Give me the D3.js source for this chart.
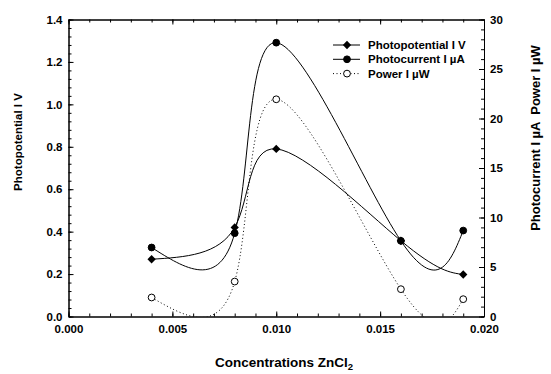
<!DOCTYPE html>
<html>
<head>
<meta charset="utf-8">
<script src="https://cdn.jsdelivr.net/npm/d3@7"></script>
<style>
  body { margin: 0; background: #fff; }
  svg { font-family: "Liberation Sans", Arial, sans-serif; font-weight: bold; }
  .tick text { font-size: 11.5px; fill: #000; }
</style>
</head>
<body>
<svg width="551" height="374"></svg>
<script>
// data
const conc = [0.004, 0.008, 0.010, 0.016, 0.019];
const photopotential = [0.27, 0.42, 0.79, 0.357, 0.198];   // V, left axis
const photocurrent = [6.97, 8.42, 27.66, 7.64, 8.68];      // µA, right axis
const power = [1.92, 3.53, 21.94, 2.76, 1.75];             // µW, right axis

const xTicks = [0.000, 0.005, 0.010, 0.015, 0.020];
const yLeftTicks = [0.0, 0.2, 0.4, 0.6, 0.8, 1.0, 1.2, 1.4];
const yRightTicks = [0, 5, 10, 15, 20, 25, 30];

const svg = d3.select("svg");

const plotLeft = 68.5, plotRight = 484, plotTop = 19.5, plotBottom = 316.5;

const x = d3.scaleLinear().domain([0, 0.02]).range([plotLeft, plotRight]);
const yL = d3.scaleLinear().domain([0, 1.4]).range([plotBottom, plotTop]);
const yR = d3.scaleLinear().domain([0, 30]).range([plotBottom, plotTop]);

svg.append("clipPath").attr("id", "plot-clip")
    .append("rect")
    .attr("x", plotLeft).attr("y", plotTop)
    .attr("width", plotRight - plotLeft).attr("height", plotBottom - plotTop);

// axes: ticks point inward on all four sides
function minor(axis, values) {
    return axis.tickValues(values).tickFormat("").tickSizeOuter(0);
}

svg.append("g").attr("transform", `translate(0,${plotBottom})`)
    .call(minor(d3.axisBottom(x).tickSizeInner(-3), d3.range(0, 21).map(d => d / 1000)));
svg.append("g").attr("transform", `translate(0,${plotBottom})`)
    .call(d3.axisBottom(x).tickValues(xTicks).tickFormat(d3.format(".3f"))
        .tickSizeInner(-5).tickSizeOuter(0).tickPadding(8));

svg.append("g").attr("transform", `translate(0,${plotTop})`)
    .call(minor(d3.axisTop(x).tickSizeInner(-3), d3.range(0, 21).map(d => d / 1000)));
svg.append("g").attr("transform", `translate(0,${plotTop})`)
    .call(d3.axisTop(x).tickValues(xTicks).tickFormat("").tickSizeInner(-5).tickSizeOuter(0));

svg.append("g").attr("transform", `translate(${plotLeft},0)`)
    .call(minor(d3.axisLeft(yL).tickSizeInner(-3), d3.range(0, 36).map(d => d * 0.04)));
svg.append("g").attr("transform", `translate(${plotLeft},0)`)
    .call(d3.axisLeft(yL).tickValues(yLeftTicks).tickFormat(d3.format(".1f"))
        .tickSizeInner(-5).tickSizeOuter(0).tickPadding(6));

svg.append("g").attr("transform", `translate(${plotRight},0)`)
    .call(minor(d3.axisRight(yR).tickSizeInner(-3), d3.range(0, 31)));
svg.append("g").attr("transform", `translate(${plotRight},0)`)
    .call(d3.axisRight(yR).tickValues(yRightTicks).tickFormat(d3.format("d"))
        .tickSizeInner(-5).tickSizeOuter(0).tickPadding(6));

svg.selectAll(".domain").attr("stroke", "#000");
svg.selectAll(".tick line").attr("stroke", "#000");

// curves
const plot = svg.append("g").attr("clip-path", "url(#plot-clip)");

const series = [
    { name: "Photopotential I V", values: photopotential, y: yL, symbol: "diamond", dash: null },
    { name: "Photocurrent I µA", values: photocurrent, y: yR, symbol: "circle", dash: null },
    { name: "Power I µW", values: power, y: yR, symbol: "open", dash: "1,2.5" }
];

series.forEach(s => {
    const line = d3.line()
        .x((d, i) => x(conc[i]))
        .y(d => s.y(d))
        .curve(d3.curveNatural);
    plot.append("path")
        .attr("d", line(s.values))
        .attr("fill", "none")
        .attr("stroke", "#000")
        .attr("stroke-width", 1)
        .attr("stroke-dasharray", s.dash);
});

function drawSymbol(g, type, cx, cy) {
    if (type === "diamond") {
        g.append("path")
            .attr("d", d3.symbol().type(d3.symbolDiamond2).size(44)())
            .attr("transform", `translate(${cx},${cy})`)
            .attr("fill", "#000");
    } else {
        g.append("circle")
            .attr("cx", cx).attr("cy", cy).attr("r", 3.4)
            .attr("fill", type === "open" ? "#fff" : "#000")
            .attr("stroke", "#000").attr("stroke-width", 1);
    }
}

series.forEach(s => {
    s.values.forEach((v, i) => drawSymbol(svg, s.symbol, x(conc[i]), s.y(v)));
});

// legend
const legend = svg.append("g");
series.forEach((s, i) => {
    const ly = 45 + i * 14.3;
    legend.append("line")
        .attr("x1", 333).attr("x2", 360)
        .attr("y1", ly).attr("y2", ly)
        .attr("stroke", "#000")
        .attr("stroke-dasharray", s.dash);
    drawSymbol(legend, s.symbol, 347, ly);
    legend.append("text")
        .attr("x", 368).attr("y", ly + 4)
        .attr("font-size", "11.5px")
        .text(s.name);
});

// axis titles
svg.append("text")
    .attr("transform", "translate(21.5,142) rotate(-90)")
    .attr("text-anchor", "middle")
    .attr("font-size", "11.5px")
    .text("Photopotential I V");

svg.append("text")
    .attr("transform", "translate(540,138) rotate(-90)")
    .attr("text-anchor", "middle")
    .attr("font-size", "13px")
    .style("white-space", "pre")
    .text("Photocurrent I µA  Power I µW");

const xt = svg.append("text")
    .attr("x", 284).attr("y", 366.5)
    .attr("text-anchor", "middle")
    .attr("font-size", "13.5px");
xt.append("tspan").text("Concentrations ZnCl");
xt.append("tspan").attr("font-size", "9.5px").attr("dy", 3).text("2");
</script>
</body>
</html>
